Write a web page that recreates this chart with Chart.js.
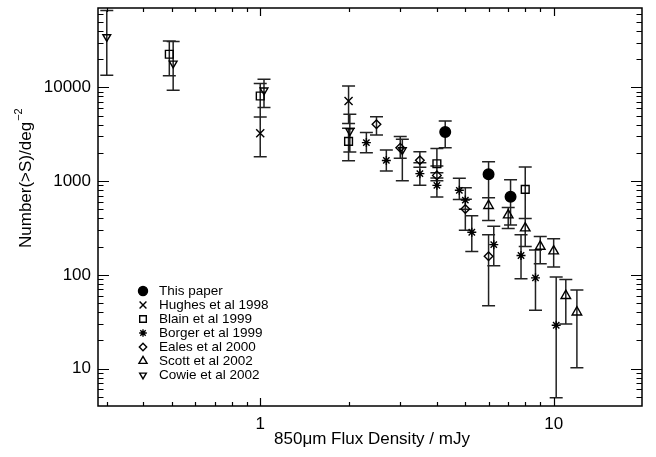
<!DOCTYPE html>
<html>
<head>
<meta charset="utf-8">
<script src="https://cdn.jsdelivr.net/npm/chart.js@4.4.0/dist/chart.umd.min.js"></script>
<style>
  html, body { margin: 0; padding: 0; background: #fff; }
  #wrap { width: 656px; height: 457px; }
</style>
</head>
<body>
<div id="wrap"><canvas id="chart" width="656" height="457"></canvas></div>
<script>
// values: flux (mJy), N(>S) per deg^2, lower / upper ends of the error bar
const paperS  = [4.27, 6.0, 7.13];
const paperN  = [3330, 1180, 681];
const paperLo = [2270, 665, 340];
const paperHi = [4370, 1610, 1030];

const hughesS  = [1.0, 2.0];
const hughesN  = [3230, 7140];
const hughesLo = [1820, 4100];
const hughesHi = [4820, 10300];

const blainS  = [0.49, 1.0, 2.0, 4.0, 8.0];
const blainN  = [22500, 8070, 2650, 1530, 815];
const blainLo = [13300, 4820, 1650, 1230, 400];
const blainHi = [31200, 11000, 3650, 2220, 1410];

const borgerS  = [2.3, 2.69, 3.5, 4.0, 4.77, 5.0, 5.26, 6.25, 7.74, 8.67, 10.2];
const borgerN  = [2570, 1660, 1200, 900, 797, 627, 285, 210, 161, 93, 29];
const borgerLo = [2010, 1280, 900, 675, 638, 500, 178, 125, 91, 42, 4.9];
const borgerHi = [3290, 2140, 1570, 1080, 1070, 850, 428, 329, 268, 184, 95];

const ealesS  = [2.49, 3.0, 3.5, 4.0, 5.0, 6.0];
const ealesN  = [4030, 2270, 1670, 1150, 504, 158];
const ealesLo = [3100, 1750, 1400, 1010, 299, 47];
const ealesHi = [4860, 2980, 2060, 1450, 640, 268];

const scottS  = [6.0, 7.0, 8.0, 9.0, 10.0, 11.0, 12.0];
const scottN  = [546, 433, 315, 201, 179, 60, 40];
const scottLo = [380, 313, 201, 131, 121, 30, 10.2];
const scottHi = [665, 524, 400, 257, 243, 89, 69];

const cowieS  = [0.3, 0.505, 1.03, 2.02, 3.05];
const cowieN  = [34400, 18000, 9290, 3420, 2150];
const cowieLo = [13400, 9290, 6070, 2040, 1010];
const cowieHi = [66000, 30800, 12200, 5150, 2790];

// axis ticks
const xMajor = [1, 10];
const xMinor = [0.3, 0.4, 0.5, 0.6, 0.7, 0.8, 0.9, 2, 3, 4, 5, 6, 7, 8, 9];
const yMajor = [10, 100, 1000, 10000];
const yMinor = [5, 6, 7, 8, 9, 20, 30, 40, 50, 60, 70, 80, 90,
                200, 300, 400, 500, 600, 700, 800, 900,
                2000, 3000, 4000, 5000, 6000, 7000, 8000, 9000,
                20000, 30000, 40000, 50000, 60000];

const FONT = '"Liberation Sans", Arial, sans-serif';

function pts(S, N, lo, hi) {
  return S.map((s, i) => ({ x: s, y: N[i], yMin: lo[i], yMax: hi[i] }));
}

function series(label, S, N, lo, hi, style, radius, filled, rotation) {
  return {
    label: label,
    data: pts(S, N, lo, hi),
    pointStyle: style,
    pointRadius: radius,
    pointRotation: rotation || 0,
    pointBorderWidth: 1.4,
    borderColor: '#000',
    backgroundColor: filled ? '#000' : 'rgba(0,0,0,0)',
    showLine: false
  };
}

// error bars, frame, inward ticks, titles and legend, in the IDL look
const idlPlot = {
  id: 'idlPlot',
  beforeDatasetsDraw(chart) {
    const { ctx, chartArea: a } = chart;
    const xs = chart.scales.x, ys = chart.scales.y;
    const cap = 6.5;
    ctx.save();
    ctx.beginPath();
    ctx.rect(a.left, a.top, a.right - a.left, a.bottom - a.top);
    ctx.clip();
    ctx.strokeStyle = '#222';
    ctx.lineWidth = 1.5;
    ctx.beginPath();
    chart.data.datasets.forEach((ds) => {
      ds.data.forEach((p) => {
        const px = xs.getPixelForValue(p.x);
        const top = ys.getPixelForValue(p.yMax);
        const bot = ys.getPixelForValue(p.yMin);
        ctx.moveTo(px, top); ctx.lineTo(px, bot);
        ctx.moveTo(px - cap, top); ctx.lineTo(px + cap, top);
        ctx.moveTo(px - cap, bot); ctx.lineTo(px + cap, bot);
      });
    });
    ctx.stroke();
    ctx.restore();
  },
  afterDraw(chart) {
    const { ctx, chartArea: a } = chart;
    const xs = chart.scales.x, ys = chart.scales.y;
    ctx.save();
    ctx.strokeStyle = '#000';
    ctx.lineWidth = 1.5;
    ctx.strokeRect(a.left, a.top, a.right - a.left, a.bottom - a.top);

    ctx.lineWidth = 1.2;
    ctx.beginPath();
    const xTick = (v, len) => {
      const px = Math.round(xs.getPixelForValue(v)) + 0.5;
      ctx.moveTo(px, a.bottom); ctx.lineTo(px, a.bottom - len);
      ctx.moveTo(px, a.top); ctx.lineTo(px, a.top + len);
    };
    const yTick = (v, len) => {
      const py = Math.round(ys.getPixelForValue(v)) + 0.5;
      ctx.moveTo(a.left, py); ctx.lineTo(a.left + len, py);
      ctx.moveTo(a.right, py); ctx.lineTo(a.right - len, py);
    };
    xMajor.forEach((v) => xTick(v, 8));
    xMinor.forEach((v) => xTick(v, 4));
    yMajor.forEach((v) => yTick(v, 11));
    yMinor.forEach((v) => yTick(v, 5.5));
    ctx.stroke();

    // axis titles
    ctx.fillStyle = '#000';
    ctx.font = '17px ' + FONT;
    ctx.textAlign = 'center';
    ctx.textBaseline = 'middle';
    ctx.fillText('850μm Flux Density / mJy', 372, 439);

    ctx.save();
    ctx.translate(26, 248);
    ctx.rotate(-Math.PI / 2);
    ctx.textAlign = 'left';
    ctx.fillText('Number(>S)/deg', 0, 0);
    const w = ctx.measureText('Number(>S)/deg').width;
    ctx.font = '11px ' + FONT;
    ctx.fillText('−2', w + 1, -7);
    ctx.restore();

    // legend
    ctx.font = '13.5px ' + FONT;
    ctx.textAlign = 'left';
    ctx.textBaseline = 'middle';
    chart.data.datasets.forEach((ds, i) => {
      const ly = 291 + i * 14;
      ctx.strokeStyle = '#000';
      ctx.fillStyle = ds.backgroundColor;
      ctx.lineWidth = ds.pointBorderWidth;
      Chart.helpers.drawPoint(ctx, {
        pointStyle: ds.pointStyle,
        radius: ds.pointRadius * 0.85,
        rotation: ds.pointRotation,
        borderWidth: ds.pointBorderWidth
      }, 143, ly);
      ctx.fillStyle = '#000';
      ctx.fillText(ds.label, 159, ly + 0.5);
    });
    ctx.restore();
  }
};

new Chart(document.getElementById('chart'), {
  type: 'scatter',
  data: {
    datasets: [
      series('This paper', paperS, paperN, paperLo, paperHi, 'circle', 5.3, true),
      series('Hughes et al 1998', hughesS, hughesN, hughesLo, hughesHi, 'crossRot', 5.7, false),
      series('Blain et al 1999', blainS, blainN, blainLo, blainHi, 'rect', 5.5, false),
      series('Borger et al 1999', borgerS, borgerN, borgerLo, borgerHi, 'star', 4.5, false),
      series('Eales et al 2000', ealesS, ealesN, ealesLo, ealesHi, 'rectRot', 4.3, false),
      series('Scott et al 2002', scottS, scottN, scottLo, scottHi, 'triangle', 5.5, false),
      series('Cowie et al 2002', cowieS, cowieN, cowieLo, cowieHi, 'triangle', 4.5, false, 180)
    ]
  },
  options: {
    responsive: false,
    animation: false,
    devicePixelRatio: 1,
    layout: { padding: { left: 0, right: 14, top: 8, bottom: 0 } },
    plugins: { legend: { display: false }, tooltip: { enabled: false } },
    scales: {
      x: {
        type: 'logarithmic',
        min: 0.28,
        max: 20,
        grid: { display: false, drawTicks: false },
        border: { display: false },
        afterBuildTicks: (s) => { s.ticks = xMajor.map((v) => ({ value: v })); },
        afterFit: (s) => { s.height = 51; s.paddingLeft = 0; s.paddingRight = 0; },
        ticks: {
          color: '#000',
          padding: 8,
          maxRotation: 0,
          font: { family: FONT, size: 17 },
          callback: (v) => String(v)
        }
      },
      y: {
        type: 'logarithmic',
        min: 4,
        max: 70000,
        grid: { display: false, drawTicks: false },
        border: { display: false },
        afterBuildTicks: (s) => { s.ticks = yMajor.map((v) => ({ value: v })); },
        afterFit: (s) => { s.width = 98; s.paddingTop = 0; s.paddingBottom = 0; },
        ticks: {
          color: '#000',
          padding: 7,
          font: { family: FONT, size: 17 },
          callback: (v) => String(v)
        }
      }
    }
  },
  plugins: [idlPlot]
});
</script>
</body>
</html>
